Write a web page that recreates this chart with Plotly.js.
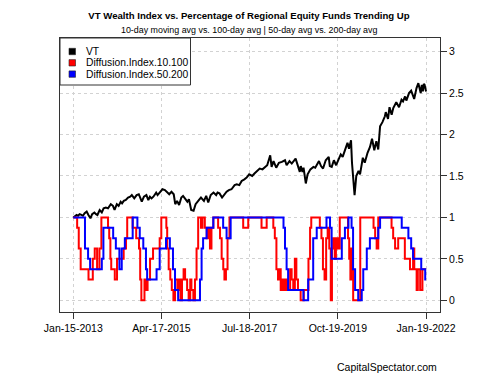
<!DOCTYPE html>
<html>
<head>
<meta charset="utf-8">
<script src="https://cdn.plot.ly/plotly-3.0.1.min.js"></script>
<style>html,body{margin:0;padding:0;background:#fff;}#chart{width:500px;height:375px;}</style>
</head>
<body>
<div id="chart"></div>
<script>
// ---------- data ----------
const vtDates = ["2013-01-15","2013-02-01","2013-02-15","2013-03-01","2013-03-15","2013-04-01","2013-04-15","2013-05-01","2013-05-20","2013-06-05","2013-06-24","2013-07-10","2013-07-31","2013-08-15","2013-08-28","2013-09-18","2013-10-08","2013-10-25","2013-11-15","2013-12-05","2013-12-31",
"2014-01-20","2014-02-04","2014-02-25","2014-03-14","2014-04-02","2014-04-15","2014-05-01","2014-05-20","2014-06-10","2014-06-30","2014-07-15","2014-08-07","2014-08-29","2014-09-18","2014-10-16","2014-11-05","2014-11-28","2014-12-16","2014-12-31",
"2015-01-15","2015-02-01","2015-02-27","2015-03-12","2015-04-01","2015-04-27","2015-05-20","2015-06-10","2015-06-29","2015-07-20","2015-08-10","2015-08-24","2015-09-10","2015-09-29","2015-10-20","2015-11-05","2015-11-25","2015-12-15","2015-12-30",
"2016-01-20","2016-02-11","2016-03-01","2016-03-31","2016-04-20","2016-05-18","2016-06-08","2016-06-27","2016-07-20","2016-08-15","2016-09-09","2016-09-22","2016-10-10","2016-11-03","2016-11-25","2016-12-15",
"2017-01-05","2017-01-30","2017-02-28","2017-03-20","2017-04-13","2017-05-05","2017-05-30","2017-06-20","2017-07-14","2017-08-11","2017-09-01","2017-09-29","2017-10-20","2017-11-15","2017-12-08","2017-12-29",
"2018-01-26","2018-02-08","2018-02-26","2018-03-23","2018-04-17","2018-05-15","2018-06-13","2018-06-28","2018-07-25","2018-08-15","2018-09-20","2018-10-11","2018-10-29","2018-11-07","2018-11-23","2018-12-03","2018-12-24",
"2019-01-10","2019-02-05","2019-03-05","2019-03-22","2019-04-26","2019-05-15","2019-06-03","2019-06-28","2019-07-26","2019-08-05","2019-08-23","2019-09-12","2019-10-03","2019-10-28","2019-11-15","2019-12-03","2019-12-27",
"2020-01-17","2020-01-31","2020-02-19","2020-02-28","2020-03-09","2020-03-23","2020-04-08","2020-04-29","2020-05-13","2020-06-08","2020-06-26","2020-07-22","2020-08-14","2020-09-02","2020-09-23","2020-10-12","2020-10-30","2020-11-16","2020-12-08","2020-12-31",
"2021-01-08","2021-01-29","2021-02-12","2021-03-04","2021-03-19","2021-04-16","2021-05-12","2021-06-04","2021-06-18","2021-07-07","2021-07-19","2021-08-13","2021-09-02","2021-09-30","2021-10-22","2021-11-08","2021-11-30","2021-12-10","2021-12-20","2021-12-29","2022-01-05","2022-01-19"];
const vtValues = [1.00,1.02,1.03,1.02,1.04,1.03,1.02,1.05,1.07,1.03,0.99,1.04,1.06,1.04,1.03,1.09,1.06,1.11,1.12,1.11,1.16,
1.14,1.09,1.16,1.14,1.19,1.17,1.20,1.21,1.24,1.25,1.27,1.23,1.27,1.28,1.19,1.25,1.27,1.21,1.25,
1.23,1.25,1.30,1.27,1.30,1.34,1.33,1.30,1.28,1.31,1.28,1.16,1.20,1.15,1.24,1.26,1.23,1.19,1.22,
1.09,1.08,1.16,1.21,1.24,1.20,1.26,1.18,1.27,1.30,1.27,1.30,1.29,1.24,1.28,1.31,
1.33,1.34,1.39,1.40,1.39,1.44,1.46,1.48,1.52,1.50,1.53,1.56,1.59,1.58,1.61,1.63,
1.75,1.61,1.68,1.60,1.66,1.67,1.69,1.63,1.68,1.65,1.71,1.61,1.55,1.62,1.55,1.60,1.41,
1.52,1.58,1.61,1.60,1.68,1.62,1.59,1.69,1.73,1.62,1.61,1.69,1.63,1.72,1.76,1.73,1.82,
1.90,1.83,1.93,1.66,1.51,1.27,1.50,1.56,1.52,1.72,1.66,1.78,1.85,1.95,1.81,1.92,1.82,2.10,2.15,2.22,
2.27,2.19,2.33,2.24,2.32,2.39,2.33,2.42,2.40,2.46,2.41,2.50,2.53,2.43,2.56,2.62,2.50,2.60,2.52,2.61,2.60,2.52];

const di10Dates = ["2013-01-15","2013-02-20","2013-03-07","2013-03-25","2013-06-06","2013-07-16","2013-08-03","2013-08-25","2013-09-16","2013-10-04","2013-12-05","2013-12-16","2013-12-27",
"2014-01-04","2014-02-06","2014-02-27","2014-04-30","2014-05-22","2014-06-02","2014-07-23","2014-08-25","2014-09-20","2014-10-01","2014-10-12","2014-11-10","2014-11-24","2014-12-09",
"2015-01-01","2015-01-29","2015-04-01","2015-04-16","2015-06-02","2015-06-10","2015-06-24","2015-07-09","2015-07-23","2015-08-07","2015-08-22","2015-09-13","2015-09-27","2015-10-12","2015-10-26","2015-11-10","2015-11-24","2015-12-13","2015-12-27",
"2016-01-11","2016-01-22","2016-02-09","2016-02-24","2016-03-10","2016-03-25","2016-04-20","2016-05-04","2016-05-26","2016-06-13","2016-06-28","2016-07-13","2016-07-27","2016-08-14","2016-09-27","2016-10-15","2016-10-30","2016-11-14","2016-11-25","2016-12-09","2016-12-24",
"2017-01-11","2017-05-19","2017-07-05","2017-11-06","2017-12-24",
"2018-02-24","2018-03-10","2018-03-25","2018-04-09","2018-04-20","2018-05-04","2018-05-19","2018-06-02","2018-06-17","2018-07-02","2018-07-31","2018-08-14","2018-08-29","2018-09-13","2018-09-27","2018-10-12","2018-11-06","2018-12-05",
"2019-01-18","2019-02-02","2019-02-13","2019-05-04","2019-05-19","2019-06-02","2019-06-17","2019-07-02","2019-07-16","2019-07-31","2019-08-14","2019-08-25","2019-09-05","2019-09-20","2019-10-01","2019-10-19","2019-11-06",
"2020-01-22","2020-02-02","2020-02-13","2020-02-20","2020-03-03","2020-03-10","2020-05-15","2020-09-16","2020-10-01","2020-10-15","2020-10-30",
"2021-03-03","2021-03-18","2021-04-05","2021-05-04","2021-07-05","2021-08-22","2021-09-20","2021-10-01","2021-10-23","2021-11-03","2021-11-25","2021-12-16","2022-01-19"];
const di10Values = [1,0.875,0.625,0.375,0.25,0.5,0.625,0.375,0.625,1,0.875,0.75,0.5,
0.375,0.25,0.5,0.625,0.75,1,0.875,0.75,0.625,0.25,0,0.25,0.125,0.25,
0.5,0.625,0.75,1,0.875,0.625,0.375,0.25,0.125,0,0.25,0.125,0.25,0,0.25,0.375,0.25,0.125,0,
0.25,0.125,0,0.25,0.625,1,0.875,1,0.875,0.75,0.875,0.625,0.875,1,0.875,0.75,0.5,0.375,0.25,0.375,0.75,
1,0.875,1,0.875,1,
0.875,0.75,0.375,0.25,0.375,0.125,0.25,0.125,0.25,0.125,0.375,0.25,0.125,0.5,0.25,0.125,0,0.125,
0.5,0.875,1,0.875,0.75,0.375,0.25,0.75,0.875,0.625,0,0.625,0.75,0.5,0.75,0.625,1,
0.75,0.5,0.25,0.625,0.375,0,1,0.875,0.75,0.625,1,
0.875,0.75,0.625,0.75,0.5,0.375,0.625,0.375,0.125,0.375,0.125,0.375,0.375];

const di50Dates = ["2013-01-15","2013-05-04","2013-06-02","2013-06-21","2013-10-08","2013-10-23",
"2014-01-22","2014-02-16","2014-03-21","2014-04-12","2014-05-11","2014-07-23","2014-09-05","2014-09-27","2014-10-30","2014-11-24","2014-12-05",
"2015-03-03","2015-04-01","2015-05-30","2015-07-05","2015-08-03","2015-08-22","2015-09-20",
"2016-04-11","2016-04-26","2016-05-10","2016-06-12","2016-08-13","2016-11-13","2016-12-15",
"2017-01-22","2018-05-30","2018-06-13","2018-06-28","2018-07-12","2018-12-02",
"2019-01-15","2019-03-03","2019-04-05","2019-07-05","2019-08-07","2019-08-22","2019-11-25","2019-12-24",
"2020-01-26","2020-02-24","2020-03-09","2020-03-28","2020-04-26","2020-05-29","2020-06-12","2020-07-15","2020-08-13","2020-10-30","2020-11-16",
"2021-06-06","2021-08-07","2021-09-02","2021-09-20","2021-12-05","2022-01-11","2022-01-19"];
const di50Values = [1,0.625,0.5,0.375,0.5,0.875,
0.75,0.625,0.375,0.625,0.75,1,0.875,0.75,0.625,0.375,0.25,
0.375,0.625,0.75,0.625,0.375,0.125,0,
0.25,0.625,0.75,0.875,1,0.875,0.75,
1,0.875,0.625,0.375,0.125,0,
0.25,0.75,0.875,1,0.875,0.5,0.75,0.875,
1,0.875,0.375,0.125,0,0.125,0.375,0.625,0.75,0.875,1,
0.875,0.75,0.625,0.5,0.375,0.25,0.25];

const seriesNames = ["VT","Diffusion.Index.10.100","Diffusion.Index.50.200"];
const seriesColors = ["#000000","#ff0000","#0000ff"];
const xTickVals = ["2013-01-15","2015-04-17","2017-07-18","2019-10-19","2022-01-19"];
const xTickText = ["Jan-15-2013","Apr-17-2015","Jul-18-2017","Oct-19-2019","Jan-19-2022"];
const yTickVals = [0,0.5,1,1.5,2,2.5,3];
const yTickText = ["0","0.5","1","1.5","2","2.5","3"];

// ---------- layout helpers ----------
const W = 500, H = 375, L = 60, R = 440, T = 38, B = 312;
const px = x => (x - L) / (R - L);
const py = y => (B - y) / (B - T);
const FONT = "Liberation Sans, Arial, Helvetica, sans-serif";

const traces = [
  {x: vtDates, y: vtValues, type: "scatter", mode: "lines", name: seriesNames[0],
   line: {color: seriesColors[0], width: 2}, showlegend: false, hoverinfo: "skip"},
  {x: di10Dates, y: di10Values, type: "scatter", mode: "lines", name: seriesNames[1],
   line: {color: seriesColors[1], width: 2, shape: "hv"}, showlegend: false, hoverinfo: "skip"},
  {x: di50Dates, y: di50Values, type: "scatter", mode: "lines", name: seriesNames[2],
   line: {color: seriesColors[2], width: 2, shape: "hv"}, showlegend: false, hoverinfo: "skip"}
];

// legend drawn as in the R original (box with filled squares)
const shapes = [{type: "rect", xref: "paper", yref: "paper", x0: px(60), x1: px(190.5), y0: py(85), y1: py(38),
  fillcolor: "#ffffff", line: {color: "#333333", width: 1}, layer: "above"}];
const annotations = [];
const entryY = [51.5, 62.8, 74.1];
seriesNames.forEach((nm, i) => {
  shapes.push({type: "rect", xref: "paper", yref: "paper", x0: px(69), x1: px(75.5), y0: py(entryY[i] + 3.2), y1: py(entryY[i] - 3.2),
    fillcolor: seriesColors[i], line: {color: "#222222", width: 0.6}, layer: "above"});
  annotations.push({xref: "paper", yref: "paper", x: px(84), y: py(entryY[i]), xanchor: "left", yanchor: "middle",
    text: nm, showarrow: false, font: {family: FONT, size: 10.3, color: "#000"}});
});
annotations.push({xref: "paper", yref: "paper", x: px(439), y: py(366.5), xanchor: "right", yanchor: "middle",
  text: "CapitalSpectator.com", showarrow: false, font: {family: FONT, size: 10.5, color: "#000"}});
annotations.push({xref: "paper", yref: "paper", x: px(248.5), y: py(30.5), xanchor: "center", yanchor: "middle",
  text: "10-day moving avg vs. 100-day avg | 50-day avg vs. 200-day avg", showarrow: false,
  font: {family: FONT, size: 8.9, color: "#000"}});

const layout = {
  width: W, height: H,
  margin: {l: L, r: W - R, t: T, b: H - B, pad: 0},
  paper_bgcolor: "#ffffff", plot_bgcolor: "#ffffff",
  font: {family: FONT, size: 10.5, color: "#000"},
  title: {text: "<b>VT Wealth Index vs. Percentage of Regional Equity Funds Trending Up</b>",
    x: px(249), xanchor: "center", xref: "paper", y: 1 - 15.5 / H, yanchor: "middle",
    font: {family: FONT, size: 9.6, color: "#000"}},
  xaxis: {type: "date", range: ["2012-09-13", "2022-05-29"], tickmode: "array", tickvals: xTickVals, ticktext: xTickText,
    ticks: "outside", ticklen: 6, tickcolor: "#333", tickwidth: 1,
    showgrid: true, gridcolor: "#d2d2d2", griddash: "dot", gridwidth: 1,
    showline: true, mirror: true, linecolor: "#333", linewidth: 1, zeroline: false,
    tickfont: {family: FONT, size: 10.5, color: "#000"}, fixedrange: true},
  yaxis: {side: "right", range: [-0.141, 3.165], tickmode: "array", tickvals: yTickVals, ticktext: yTickText,
    ticks: "outside", ticklen: 6, tickcolor: "#333", tickwidth: 1,
    showgrid: true, gridcolor: "#d2d2d2", griddash: "dot", gridwidth: 1,
    showline: true, mirror: true, linecolor: "#333", linewidth: 1, zeroline: false,
    tickfont: {family: FONT, size: 10.5, color: "#000"}, fixedrange: true},
  shapes: shapes,
  annotations: annotations,
  showlegend: false
};

Plotly.newPlot("chart", traces, layout, {staticPlot: true, displayModeBar: false});
</script>
</body>
</html>
